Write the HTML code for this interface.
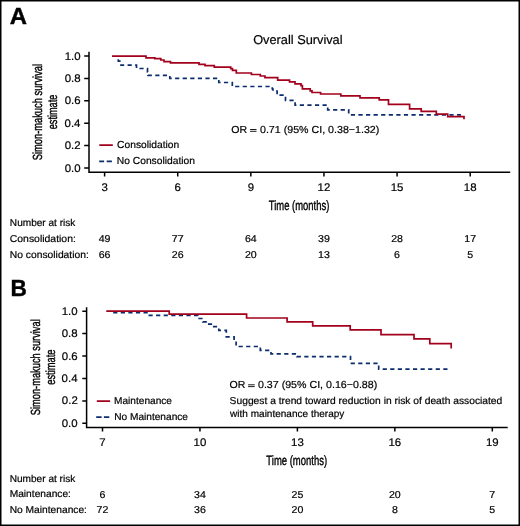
<!DOCTYPE html>
<html><head><meta charset="utf-8">
<style>
html,body{margin:0;padding:0;background:#fff;}
body{width:520px;height:526px;overflow:hidden;position:relative;}
svg{display:block;will-change:transform;position:absolute;left:0;top:0;}
#m{filter:blur(0.3px);}
text{font-family:"Liberation Sans",sans-serif;fill:#000;text-rendering:geometricPrecision;stroke:#000;stroke-width:0.2px;}
.cd{stroke:#000;stroke-width:0.4px;}
.bd{stroke:#000;stroke-width:0.4px;}
</style></head><body>
<svg id="m" width="520" height="526" viewBox="0 0 520 526">
<g stroke="#000" stroke-width="1.5" fill="none">
<path d="M89,51.8 V172.2 H510.2"/>
<path d="M84.20,56.10H89.00M84.20,78.46H89.00M84.20,100.82H89.00M84.20,123.18H89.00M84.20,145.54H89.00M84.20,167.90H89.00"/>
<path d="M104.60,172.20V176.50M177.72,172.20V176.50M250.84,172.20V176.50M323.96,172.20V176.50M397.08,172.20V176.50M470.20,172.20V176.50"/>
<path d="M86.6,307.2 V427.5 H507.7"/>
<path d="M82.30,311.20H86.60M82.30,333.62H86.60M82.30,356.04H86.60M82.30,378.46H86.60M82.30,400.88H86.60M82.30,423.30H86.60"/>
<path d="M102.50,427.50V431.40M199.95,427.50V431.40M297.40,427.50V431.40M394.85,427.50V431.40M492.30,427.50V431.40"/>
</g>
<path fill="none" stroke="#0b2d6e" stroke-width="1.7" stroke-dasharray="4.2 3.38" d="M118.3,59.3 V61.2 H121 V65.2 H136.5 V68.5 H147.5 V72 H148 V75.4 H169.8 V78.3 H218.8 V82.5 H232.3 V86.5 H272.3 V89 H273 V91 H277.1 V95.2 H285.5 V100.4 H295.1 V105.2 H327.7 V109.8 H348.7 V114.8 H461"/>
<path fill="none" stroke="#a3001c" stroke-width="1.7" d="M112,56.1 H146 V57.8 H154.8 V58.7 H160.8 V60 H164 V61.7 H170.5 V62.9 H199 V64.3 H205 V65.7 H214.3 V67.1 H230.7 V68.6 H232.5 V70.3 H236.3 V73 H251.4 V74.5 H260.3 V76 H265 V77.6 H277.7 V80.2 H289.5 V81.9 H295 V83.8 H301 V85.6 H302.4 V88.8 H310.2 V90.8 H312 V92.5 H320.6 V94 H340.8 V95.8 H360 V97.9 H379.2 V99.8 H388.5 V104.3 H409.6 V108.8 H421.2 V111.4 H436.3 V114.2 H447.7 V116.6 H464 V119.3"/>
<path fill="none" stroke="#0b2d6e" stroke-width="1.7" stroke-dasharray="4.2 3.38" d="M113.2,312.7 H147.8 V315.3 H197.8 V318.5 H202.8 V321.8 H206 V324.1 H212.6 V326.7 H218.8 V330.4 H226.3 V336.8 H234.1 V341 H236.1 V346.5 H260.3 V350.3 H271 V353.9 H296.9 V356.6 H350.5 V363.3 H378.7 V369.2 H448"/>
<path fill="none" stroke="#a3001c" stroke-width="1.7" d="M106.25,311.2 H169.2 V314.1 H246.6 V318 H287.1 V321.9 H312.7 V325.9 H350.2 V329.8 H381 V334.7 H414 V338.8 H429.8 V343.7 H451.2 V348.6"/>
<path d="M99.3,145.2H112.8M96.8,401.2H110.1" stroke="#a3001c" stroke-width="1.7"/>
<path d="M99.2,161.3H104.1M106.7,161.3H111.9M96.2,417.1H101.6M103.9,417.1H109.3" stroke="#0b2d6e" stroke-width="1.7"/>
<text x="9.70" y="23.70" textLength="17.25" lengthAdjust="spacingAndGlyphs" style="font-size:23.40px;font-weight:bold" class="bd">A</text>
<text x="253.13" y="43.90" textLength="89.43" lengthAdjust="spacingAndGlyphs" style="font-size:12.80px">Overall Survival</text>
<text x="64.66" y="59.70" textLength="15.90" lengthAdjust="spacingAndGlyphs" style="font-size:11.00px">1.0</text>
<text x="64.66" y="82.06" textLength="15.90" lengthAdjust="spacingAndGlyphs" style="font-size:11.00px">0.8</text>
<text x="64.71" y="104.42" textLength="15.90" lengthAdjust="spacingAndGlyphs" style="font-size:11.00px">0.6</text>
<text x="64.54" y="126.78" textLength="15.90" lengthAdjust="spacingAndGlyphs" style="font-size:11.00px">0.4</text>
<text x="64.77" y="149.14" textLength="15.90" lengthAdjust="spacingAndGlyphs" style="font-size:11.00px">0.2</text>
<text x="64.66" y="171.50" textLength="15.90" lengthAdjust="spacingAndGlyphs" style="font-size:11.00px">0.0</text>
<text x="101.42" y="190.70" textLength="6.36" lengthAdjust="spacingAndGlyphs" style="font-size:11.00px">3</text>
<text x="174.54" y="190.70" textLength="6.36" lengthAdjust="spacingAndGlyphs" style="font-size:11.00px">6</text>
<text x="247.66" y="190.70" textLength="6.36" lengthAdjust="spacingAndGlyphs" style="font-size:11.00px">9</text>
<text x="317.60" y="190.70" textLength="12.73" lengthAdjust="spacingAndGlyphs" style="font-size:11.00px">12</text>
<text x="390.72" y="190.70" textLength="12.73" lengthAdjust="spacingAndGlyphs" style="font-size:11.00px">15</text>
<text x="463.84" y="190.70" textLength="12.73" lengthAdjust="spacingAndGlyphs" style="font-size:11.00px">18</text>
<text class="cd" transform="translate(42.10,160.32) rotate(-90)" x="0" y="0" textLength="96.44" lengthAdjust="spacingAndGlyphs" style="font-size:13.20px">Simon-makuch survival</text>
<text class="cd" transform="translate(56.90,129.21) rotate(-90)" x="0" y="0" textLength="34.52" lengthAdjust="spacingAndGlyphs" style="font-size:13.20px">estimate</text>
<text x="268.76" y="209.50" textLength="60.54" lengthAdjust="spacingAndGlyphs" style="font-size:13.40px" class="cd">Time (months)</text>
<text x="117.09" y="148.40" textLength="62.18" lengthAdjust="spacingAndGlyphs" style="font-size:10.20px">Consolidation</text>
<text x="116.78" y="164.20" textLength="78.30" lengthAdjust="spacingAndGlyphs" style="font-size:10.20px">No Consolidation</text>
<text x="231.32" y="132.70" textLength="15.85" lengthAdjust="spacingAndGlyphs" style="font-size:10.20px">OR</text>
<path d="M250.1,129.5H256.5M250.1,131.3H256.5" stroke="#000" stroke-width="0.9"/>
<text x="259.97" y="132.70" textLength="119.38" lengthAdjust="spacingAndGlyphs" style="font-size:10.20px">0.71 (95% CI, 0.38−1.32)</text>
<text x="9.89" y="225.80" textLength="65.52" lengthAdjust="spacingAndGlyphs" style="font-size:10.00px">Number at risk</text>
<text x="9.78" y="242.10" textLength="66.09" lengthAdjust="spacingAndGlyphs" style="font-size:10.00px">Consolidation:</text>
<text x="9.78" y="258.10" textLength="79.07" lengthAdjust="spacingAndGlyphs" style="font-size:10.00px">No consolidation:</text>
<text x="98.70" y="242.30" textLength="11.79" lengthAdjust="spacingAndGlyphs" style="font-size:10.00px">49</text>
<text x="171.82" y="242.30" textLength="11.79" lengthAdjust="spacingAndGlyphs" style="font-size:10.00px">77</text>
<text x="244.94" y="242.30" textLength="11.79" lengthAdjust="spacingAndGlyphs" style="font-size:10.00px">64</text>
<text x="318.06" y="242.30" textLength="11.79" lengthAdjust="spacingAndGlyphs" style="font-size:10.00px">39</text>
<text x="391.18" y="242.30" textLength="11.79" lengthAdjust="spacingAndGlyphs" style="font-size:10.00px">28</text>
<text x="464.30" y="242.30" textLength="11.79" lengthAdjust="spacingAndGlyphs" style="font-size:10.00px">17</text>
<text x="98.70" y="258.20" textLength="11.79" lengthAdjust="spacingAndGlyphs" style="font-size:10.00px">66</text>
<text x="171.82" y="258.20" textLength="11.79" lengthAdjust="spacingAndGlyphs" style="font-size:10.00px">26</text>
<text x="244.94" y="258.20" textLength="11.79" lengthAdjust="spacingAndGlyphs" style="font-size:10.00px">20</text>
<text x="318.06" y="258.20" textLength="11.79" lengthAdjust="spacingAndGlyphs" style="font-size:10.00px">13</text>
<text x="394.13" y="258.20" textLength="5.90" lengthAdjust="spacingAndGlyphs" style="font-size:10.00px">6</text>
<text x="467.25" y="258.20" textLength="5.90" lengthAdjust="spacingAndGlyphs" style="font-size:10.00px">5</text>
<text x="10.43" y="296.20" textLength="16.34" lengthAdjust="spacingAndGlyphs" style="font-size:23.30px;font-weight:bold" class="bd">B</text>
<text x="61.76" y="314.80" textLength="15.90" lengthAdjust="spacingAndGlyphs" style="font-size:11.00px">1.0</text>
<text x="61.76" y="337.22" textLength="15.90" lengthAdjust="spacingAndGlyphs" style="font-size:11.00px">0.8</text>
<text x="61.81" y="359.64" textLength="15.90" lengthAdjust="spacingAndGlyphs" style="font-size:11.00px">0.6</text>
<text x="61.64" y="382.06" textLength="15.90" lengthAdjust="spacingAndGlyphs" style="font-size:11.00px">0.4</text>
<text x="61.87" y="404.48" textLength="15.90" lengthAdjust="spacingAndGlyphs" style="font-size:11.00px">0.2</text>
<text x="61.76" y="426.90" textLength="15.90" lengthAdjust="spacingAndGlyphs" style="font-size:11.00px">0.0</text>
<text x="99.32" y="445.50" textLength="6.36" lengthAdjust="spacingAndGlyphs" style="font-size:11.00px">7</text>
<text x="193.59" y="445.50" textLength="12.73" lengthAdjust="spacingAndGlyphs" style="font-size:11.00px">10</text>
<text x="291.04" y="445.50" textLength="12.73" lengthAdjust="spacingAndGlyphs" style="font-size:11.00px">13</text>
<text x="388.49" y="445.50" textLength="12.73" lengthAdjust="spacingAndGlyphs" style="font-size:11.00px">16</text>
<text x="485.94" y="445.50" textLength="12.73" lengthAdjust="spacingAndGlyphs" style="font-size:11.00px">19</text>
<text class="cd" transform="translate(39.50,415.22) rotate(-90)" x="0" y="0" textLength="95.94" lengthAdjust="spacingAndGlyphs" style="font-size:13.20px">Simon-makuch survival</text>
<text class="cd" transform="translate(54.80,384.72) rotate(-90)" x="0" y="0" textLength="35.13" lengthAdjust="spacingAndGlyphs" style="font-size:13.20px">estimate</text>
<text x="266.36" y="464.90" textLength="60.74" lengthAdjust="spacingAndGlyphs" style="font-size:13.40px" class="cd">Time (months)</text>
<text x="114.09" y="404.30" textLength="57.88" lengthAdjust="spacingAndGlyphs" style="font-size:10.00px">Maintenance</text>
<text x="114.19" y="420.30" textLength="73.79" lengthAdjust="spacingAndGlyphs" style="font-size:10.00px">No Maintenance</text>
<text x="229.62" y="388.40" textLength="15.85" lengthAdjust="spacingAndGlyphs" style="font-size:10.20px">OR</text>
<path d="M248.1,384.8H254.7M248.1,386.6H254.7" stroke="#000" stroke-width="0.9"/>
<text x="257.97" y="388.40" textLength="119.28" lengthAdjust="spacingAndGlyphs" style="font-size:10.20px">0.37 (95% CI, 0.16−0.88)</text>
<text x="229.64" y="404.40" textLength="272.65" lengthAdjust="spacingAndGlyphs" style="font-size:10.00px">Suggest a trend toward reduction in risk of death associated</text>
<text x="230.10" y="416.80" textLength="114.26" lengthAdjust="spacingAndGlyphs" style="font-size:10.00px">with maintenance therapy</text>
<text x="9.69" y="481.60" textLength="65.62" lengthAdjust="spacingAndGlyphs" style="font-size:10.00px">Number at risk</text>
<text x="9.68" y="497.40" textLength="61.28" lengthAdjust="spacingAndGlyphs" style="font-size:10.00px">Maintenance:</text>
<text x="9.68" y="513.30" textLength="77.29" lengthAdjust="spacingAndGlyphs" style="font-size:10.00px">No Maintenance:</text>
<text x="99.55" y="497.60" textLength="5.90" lengthAdjust="spacingAndGlyphs" style="font-size:10.00px">6</text>
<text x="194.05" y="497.60" textLength="11.79" lengthAdjust="spacingAndGlyphs" style="font-size:10.00px">34</text>
<text x="291.50" y="497.60" textLength="11.79" lengthAdjust="spacingAndGlyphs" style="font-size:10.00px">25</text>
<text x="388.95" y="497.60" textLength="11.79" lengthAdjust="spacingAndGlyphs" style="font-size:10.00px">20</text>
<text x="489.35" y="497.60" textLength="5.90" lengthAdjust="spacingAndGlyphs" style="font-size:10.00px">7</text>
<text x="96.60" y="513.40" textLength="11.79" lengthAdjust="spacingAndGlyphs" style="font-size:10.00px">72</text>
<text x="194.05" y="513.40" textLength="11.79" lengthAdjust="spacingAndGlyphs" style="font-size:10.00px">36</text>
<text x="291.50" y="513.40" textLength="11.79" lengthAdjust="spacingAndGlyphs" style="font-size:10.00px">20</text>
<text x="391.90" y="513.40" textLength="5.90" lengthAdjust="spacingAndGlyphs" style="font-size:10.00px">8</text>
<text x="489.35" y="513.40" textLength="5.90" lengthAdjust="spacingAndGlyphs" style="font-size:10.00px">5</text>
</svg>
<svg width="520" height="526" viewBox="0 0 520 526"><rect x="0.75" y="0.75" width="518.5" height="524.5" fill="none" stroke="#000" stroke-width="1.5"/></svg>
</body></html>
